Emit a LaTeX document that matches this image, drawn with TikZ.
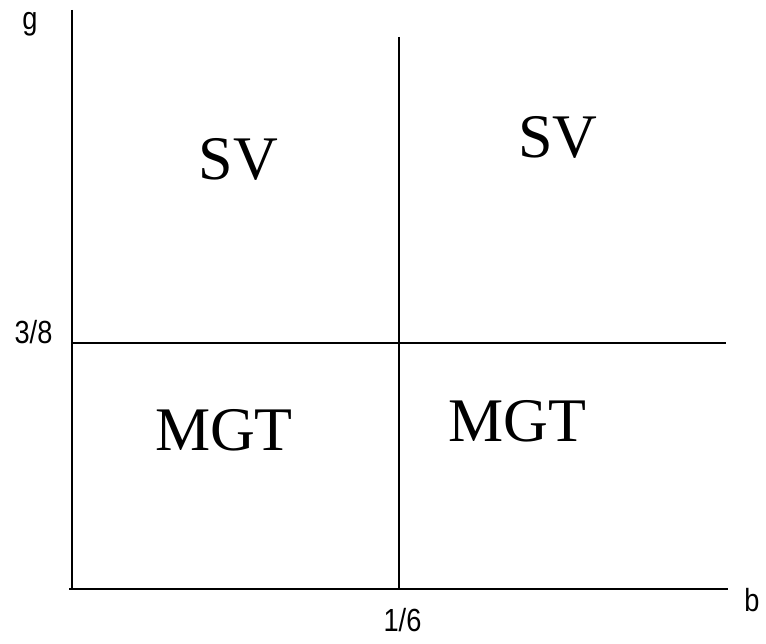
\documentclass[tikz,border=0pt]{standalone}
\usepackage{fontspec}
\setmainfont{Liberation Serif}
\newfontfamily\lblfont{Liberation Sans}
\begin{document}
\begin{tikzpicture}[x=1pt,y=-1pt,
  axisline/.style={line width=1.9pt,black},
  region/.style={inner sep=0pt,font=\fontsize{62}{62}\selectfont},
  ticklbl/.style={inner sep=0pt,font=\lblfont\fontsize{32}{32}\selectfont}]
\useasboundingbox (0,0) rectangle (766,644);
\coordinate (ytop) at (72,10);
\coordinate (origin) at (72,589);
\coordinate (xstart) at (69,589);
\coordinate (xend) at (728,589);
\coordinate (vtop) at (399,37);
\coordinate (vbot) at (399,589);
\coordinate (hleft) at (72,343);
\coordinate (hright) at (726,343);
\draw[axisline] (ytop) -- (origin);
\draw[axisline] (xstart) -- (xend);
\draw[axisline] (vtop) -- (vbot);
\draw[axisline] (hleft) -- (hright);
\node[region] (sv1) at (238.5,159.5) {SV};
\node[region] (sv2) at (558,137.5) {SV};
\node[region] (mgt1) at (224,430) {MGT};
\node[region] (mgt2) at (517.5,421.5) {MGT};
\node[ticklbl] (g) at (30,24) {\scalebox{0.85}[1]{g}};
\node[ticklbl] (b) at (752,600) {\scalebox{0.85}[1]{b}};
\node[ticklbl] (t38) at (33.5,332) {\scalebox{0.85}[1]{3/8}};
\node[ticklbl] (t16) at (402.5,620) {\scalebox{0.85}[1]{1/6}};
\end{tikzpicture}
\end{document}
